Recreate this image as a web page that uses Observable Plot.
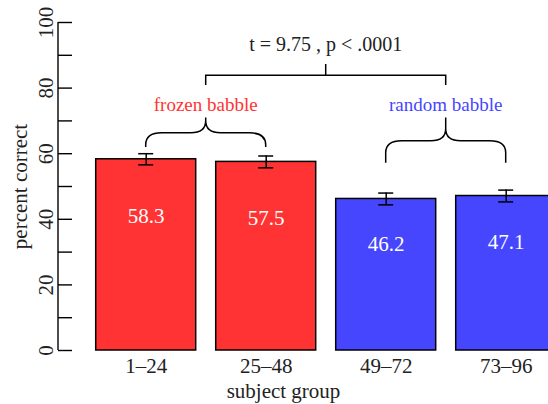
<!DOCTYPE html>
<html><head><meta charset="utf-8">
<script src="https://cdn.jsdelivr.net/npm/d3@7"></script>
<script src="https://cdn.jsdelivr.net/npm/@observablehq/plot@0.6"></script>
<style>body{margin:0;background:#fff} #chart svg{display:block}</style>
</head><body><div id="chart"></div>
<script>
// ---- data ----
const groups = ["1–24", "25–48", "49–72", "73–96"];
const conditions = ["frozen babble", "frozen babble", "random babble", "random babble"];
const values = [58.3, 57.5, 46.2, 47.1];
const errors = [1.7, 1.8, 1.8, 1.8];
const conditionNames = ["frozen babble", "random babble"];
const conditionColors = ["#ff3333", "#4646ff"];
const yTickMarks = [0, 10, 20, 30, 40, 50, 60, 70, 80, 90, 100];
const yTickLabels = [0, 20, 40, 60, 80, 100];
const statText = "t = 9.75 , p < .0001";
// annotation levels (percent-correct units)
const braceBottom = [61.9, 57.1];
const braceMiddle = [66.2, 63.8];
const braceTip = [70.9, 70.9];
const conditionLabelLevel = [74.7, 74.7];
const bracketLevels = [80.8, 83.8, 87.2]; // ends, bar, centre tick
const statLevel = [93];

const data = groups.map((g, i) => ({group: g, condition: conditions[i], value: values[i], se: errors[i]}));

function annotations(index, scales, vals, dims) {
  const x = scales.x, y = scales.y, color = scales.color;
  const bw = x.bandwidth ? x.bandwidth() : 0;
  const cx = g => x(g) + bw / 2;
  const root = d3.create("svg:g");
  // y axis line
  root.append("line")
    .attr("x1", dims.marginLeft).attr("x2", dims.marginLeft)
    .attr("y1", y(0)).attr("y2", y(100))
    .attr("stroke", "black").attr("stroke-width", 1.4);
  const centres = [];
  conditionNames.forEach((name, k) => {
    const members = groups.filter((_, i) => conditions[i] === name);
    const xL = cx(members[0]), xR = cx(members[members.length - 1]), xC = (xL + xR) / 2;
    centres.push(xC);
    const yB = y(braceBottom[k]), yH = y(braceMiddle[k]), yT = y(braceTip[k]);
    const rx = 16, ry = Math.min(12, yB - yH), rx2 = 15, ry2 = Math.min(12, yH - yT);
    const p = d3.path();
    p.moveTo(xL, yB); p.lineTo(xL, yH + ry); p.quadraticCurveTo(xL, yH, xL + rx, yH);
    p.lineTo(xC - rx2, yH); p.quadraticCurveTo(xC, yH, xC, yH - ry2); p.lineTo(xC, yT);
    p.moveTo(xR, yB); p.lineTo(xR, yH + ry); p.quadraticCurveTo(xR, yH, xR - rx, yH);
    p.lineTo(xC + rx2, yH); p.quadraticCurveTo(xC, yH, xC, yH - ry2);
    root.append("path").attr("d", p.toString()).attr("fill", "none")
      .attr("stroke", "black").attr("stroke-width", 1.5);
    root.append("text").attr("x", xC).attr("y", y(conditionLabelLevel[k]))
      .attr("text-anchor", "middle").attr("dy", "0.32em")
      .attr("font-size", 19).attr("fill", color(name)).text(name);
  });
  // top bracket
  const [a, b] = centres, m = (a + b) / 2;
  const q = d3.path();
  q.moveTo(a, y(bracketLevels[0])); q.lineTo(a, y(bracketLevels[1]));
  q.lineTo(b, y(bracketLevels[1])); q.lineTo(b, y(bracketLevels[0]));
  q.moveTo(m, y(bracketLevels[1])); q.lineTo(m, y(bracketLevels[2]));
  root.append("path").attr("d", q.toString()).attr("fill", "none")
    .attr("stroke", "black").attr("stroke-width", 1.5);
  root.append("text").attr("x", m).attr("y", y(statLevel[0]))
    .attr("text-anchor", "middle").attr("dy", "0.32em")
    .attr("font-size", 20).attr("fill", "#222").text(statText);
  return root.node();
}

const chart = Plot.plot({
  width: 548,
  height: 404,
  marginLeft: 58,
  marginRight: 0,
  marginTop: 22,
  marginBottom: 54,
  style: {fontFamily: "'Liberation Serif', 'DejaVu Serif', serif", fontSize: "21px", background: "white"},
  x: {type: "band", domain: groups, range: [75.7, 575.7], paddingInner: 1/6, paddingOuter: 1/6, round: false},
  y: {domain: [0, 100], axis: null},
  color: {domain: conditionNames, range: conditionColors},
  marks: [
    Plot.barY(data, {x: "group", y: "value", fill: "condition", stroke: "black", strokeWidth: 1.5}),
    Plot.ruleX(data, {x: "group", y1: d => d.value - d.se, y2: d => d.value + d.se, stroke: "black", strokeWidth: 1.5}),
    Plot.tickY(data, {x: "group", y: d => d.value + d.se, inset: 42.5, stroke: "black", strokeWidth: 1.5}),
    Plot.tickY(data, {x: "group", y: d => d.value - d.se, inset: 42.5, stroke: "black", strokeWidth: 1.5}),
    Plot.text(data, {x: "group", y: d => d.value * 0.7, text: d => d.value.toFixed(1), fill: "white", fontSize: 21}),
    Plot.ruleY(yTickMarks, {insetRight: 476, stroke: "black", strokeWidth: 1.4}),
    Plot.text(yTickLabels, {y: d => d, text: d => String(d), frameAnchor: "left", textAnchor: "middle", lineAnchor: "middle", dx: -12, rotate: -90, fontSize: 21, fill: "#222"}),
    Plot.text(["percent correct"], {frameAnchor: "left", textAnchor: "middle", lineAnchor: "middle", dx: -38, rotate: -90, fontSize: 21, fill: "#222"}),
    Plot.axisX({tickSize: 0, tickPadding: 8, fontSize: 21, label: null, color: "#222"}),
    Plot.text(["subject group"], {frameAnchor: "bottom", textAnchor: "middle", lineAnchor: "middle", dx: -20, dy: 41, fontSize: 21, fill: "#222"}),
    annotations
  ]
});
document.getElementById("chart").appendChild(chart);
</script>
</body></html>
